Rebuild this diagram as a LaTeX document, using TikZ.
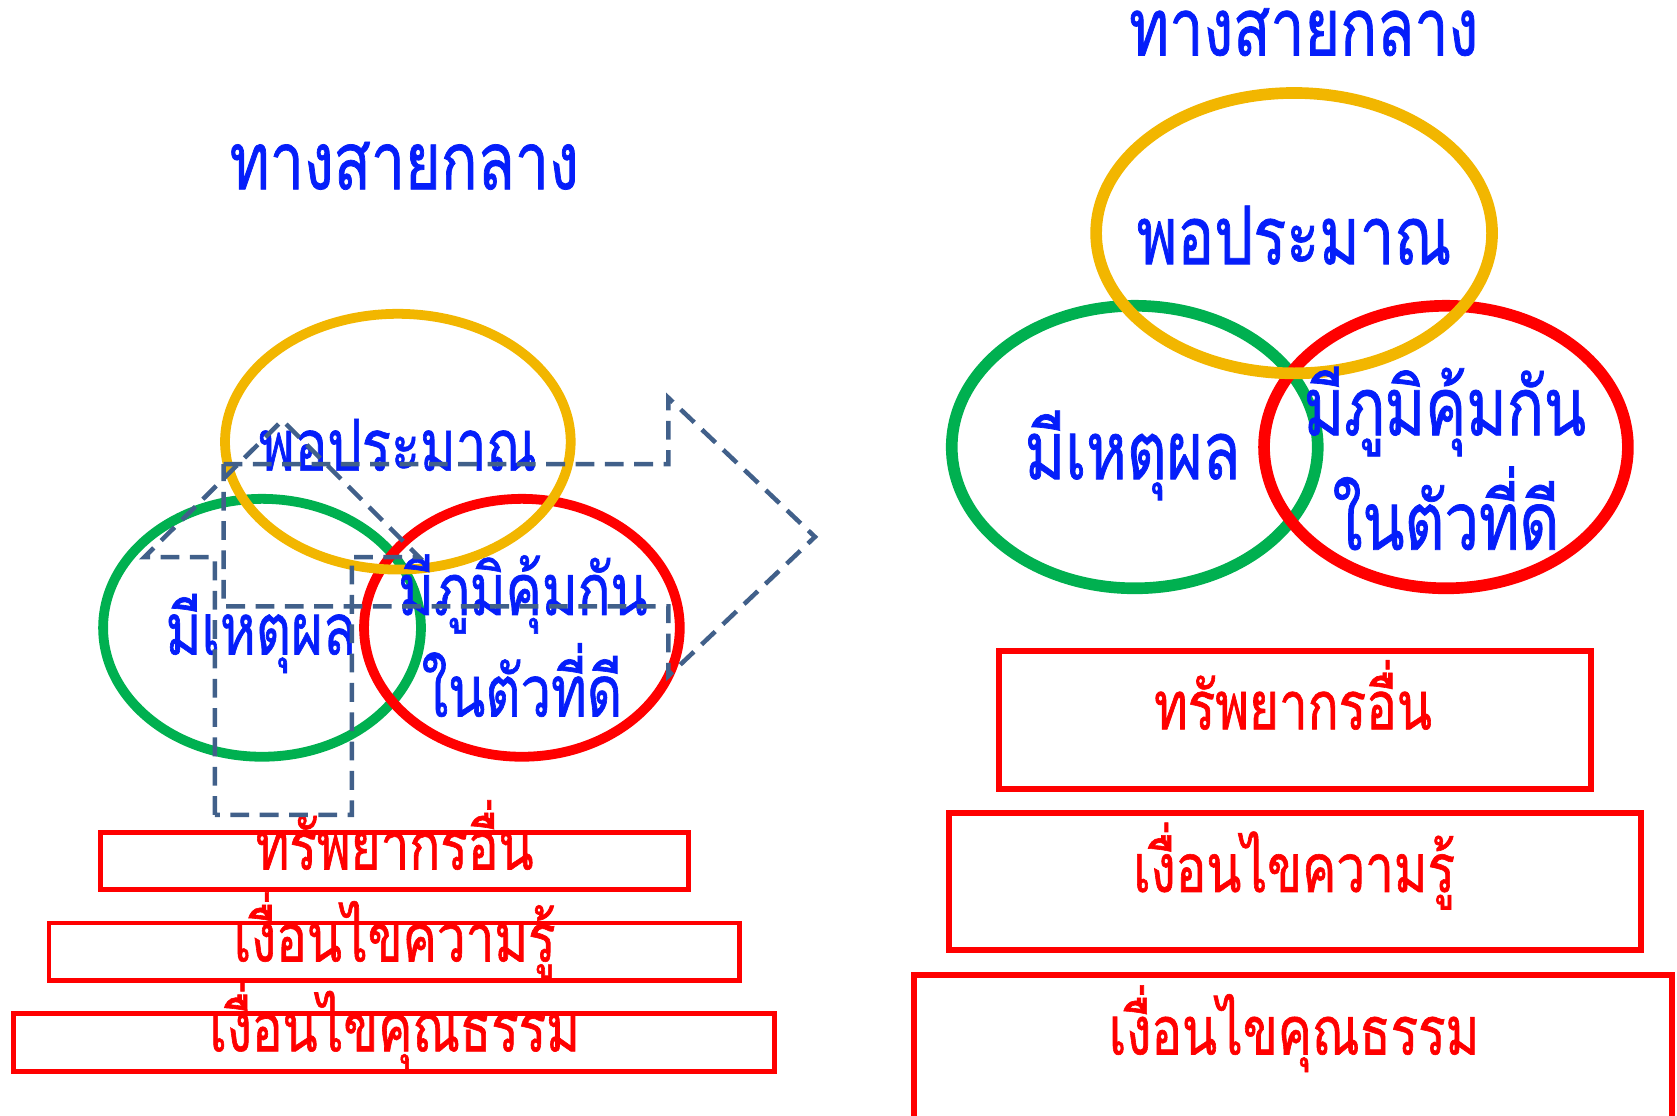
\documentclass[tikz,border=0pt]{standalone}
\usepackage{fontspec}
\newfontfamily\thaifont[Script=Thai,FakeStretch=0.76,FakeBold=0.9]{Loma}
\usetikzlibrary{shapes.geometric,
	positioning}

\definecolor{thaiblue}{RGB}{5,30,250}
\definecolor{ringyellow}{RGB}{242,182,0}
\definecolor{ringgreen}{RGB}{0,176,80}
\definecolor{ringred}{RGB}{255,0,0}
\definecolor{dashblue}{RGB}{65,96,138}

\tikzset{
	ringL/.style={draw, ellipse, line width=2.6pt, inner sep=0pt},
	ringR/.style={draw, ellipse, line width=3.1pt, inner sep=0pt},
	titletext/.style={anchor=base, inner sep=0pt, text=thaiblue,
			font=\thaifont\fontsize{21.3pt}{25pt}\selectfont},
	bluetextL/.style={anchor=base, inner sep=0pt, text=thaiblue,
			font=\thaifont\fontsize{19pt}{23pt}\selectfont},
	bluetextR/.style={anchor=base, inner sep=0pt, text=thaiblue,
			font=\thaifont\fontsize{21.5pt}{26pt}\selectfont},
	redtext/.style={anchor=base, inner sep=0pt, text=ringred,
			font=\thaifont\fontsize{17.9pt}{22pt}\selectfont},
	redboxL/.style={draw=ringred, line width=1.3pt, inner sep=0pt, minimum height=0.54cm},
	redboxR/.style={draw=ringred, line width=1.6pt, inner sep=0pt},
	dasharrow/.style={draw=dashblue, line width=1.2pt, dash pattern=on 5pt off 2.8pt}
}

\begin{document}
\begin{tikzpicture}[x=0.01cm, y=-0.01cm]
            \clip (0,0) rectangle (1568,1043);

            \node[titletext] (titleL) at (378,177) {ทางสายกลาง};
            \node[ringL, draw=ringgreen, minimum width=2.97cm, minimum height=2.41cm] (reasonL) at (245,587) {};
            \node[ringL, draw=ringred, minimum width=2.95cm, minimum height=2.41cm] (immuneL) at (488,587) {};
            \node[ringL, draw=ringyellow, minimum width=3.23cm, minimum height=2.39cm] (moderateL) at (372,413) {};
            \node[bluetextL] (moderateLtext) at (372,440) {พอประมาณ};
            \node[bluetextL] (reasonLtext) at (244,612) {มีเหตุผล};
            \node[bluetextL] (immuneLtext) at (489,575) {มีภูมิคุ้มกัน};
            \node[bluetextL] (immuneLtext2) at (488,670) {ในตัวที่ดี};

            \node[redboxL, minimum width=5.50cm] (resourceL) at (369,805) {};
            \node[redboxL, minimum width=6.45cm] (knowledgeL) at (368.5,890) {};
            \node[redboxL, minimum width=7.11cm] (moralL) at (368.5,974.5) {};
            \node[redtext] (resourceLtext) at (369,813) {ทรัพยากรอื่น};
            \node[redtext] (knowledgeLtext) at (369,899) {เงื่อนไขความรู้};
            \node[redtext] (moralLtext) at (369,983) {เงื่อนไขคุณธรรม};

            \draw[dasharrow] (201,762) -- (201,521) -- (135,521) -- (264,393)
                -- (392,521) -- (329,521) -- (329,762) -- cycle;
            \draw[dasharrow] (209,434) -- (625,434) -- (625,372) -- (762,502)
                -- (625,632) -- (625,567) -- (209,567) -- cycle;

            \node[titletext] (titleR) at (1219,52) {ทางสายกลาง};
            \node[ringR, draw=ringgreen, minimum width=3.42cm, minimum height=2.64cm] (reasonR) at (1061,418) {};
            \node[ringR, draw=ringred, minimum width=3.40cm, minimum height=2.64cm] (immuneR) at (1352,418) {};
            \node[ringR, draw=ringyellow, minimum width=3.70cm, minimum height=2.62cm] (moderateR) at (1210,218) {};
            \node[bluetextR] (moderateRtext) at (1210,247) {พอประมาณ};
            \node[bluetextR] (reasonRtext) at (1059,448) {มีเหตุผล};
            \node[bluetextR] (immuneRtext) at (1351,407) {มีภูมิคุ้มกัน};
            \node[bluetextR] (immuneRtext2) at (1352,514) {ในตัวที่ดี};

            \node[redboxR, minimum width=5.53cm, minimum height=1.29cm] (resourceR) at (1211,673) {};
            \node[redboxR, minimum width=6.47cm, minimum height=1.28cm] (knowledgeR) at (1211,824.5) {};
            \node[redboxR, minimum width=7.09cm, minimum height=1.60cm] (moralR) at (1209,992) {};
            \node[redtext] (resourceRtext) at (1209,682) {ทรัพยากรอื่น};
            \node[redtext] (knowledgeRtext) at (1210,834) {เงื่อนไขความรู้};
            \node[redtext] (moralRtext) at (1210,986) {เงื่อนไขคุณธรรม};
\end{tikzpicture}
\end{document}
